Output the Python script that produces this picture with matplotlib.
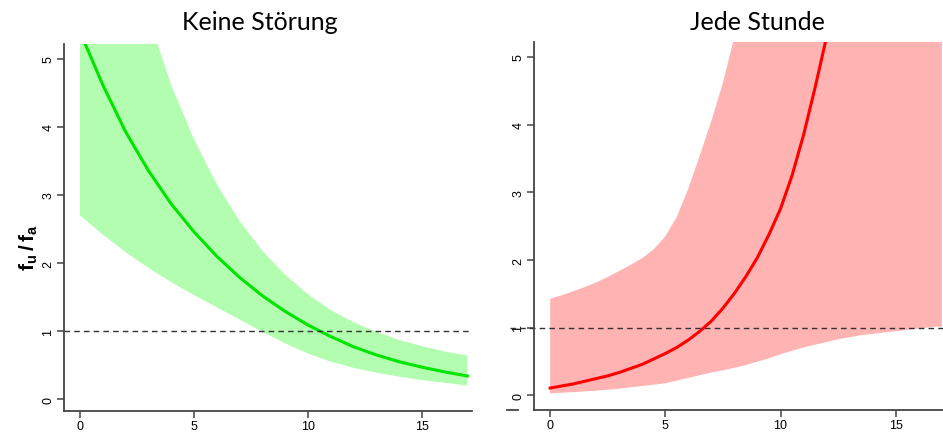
import matplotlib
matplotlib.use("Agg")
import matplotlib.pyplot as plt
from matplotlib.lines import Line2D

plt.rcParams["font.family"] = ["Liberation Sans", "DejaVu Sans"]
plt.rcParams["mathtext.fontset"] = "custom"
plt.rcParams["mathtext.bf"] = "Liberation Sans:bold"
plt.rcParams["mathtext.rm"] = "Liberation Sans"

# Werte
x = list(range(18))
x_half = [i / 2 for i in range(35)]
x_ticks = [0, 5, 10, 15]
y_ticks = [0, 1, 2, 3, 4, 5]

# Keine Störung
ks_fit = [5.40, 4.62, 3.93, 3.36, 2.87, 2.46, 2.10, 1.79, 1.52, 1.29,
          1.09, 0.92, 0.77, 0.65, 0.55, 0.47, 0.40, 0.34]
ks_upper = [8.4, 7.4, 6.5, 5.62, 4.62, 3.82, 3.16, 2.62, 2.18, 1.83,
            1.54, 1.31, 1.13, 0.99, 0.87, 0.78, 0.70, 0.64]
ks_lower = [2.70, 2.42, 2.16, 1.93, 1.72, 1.53, 1.35, 1.17, 0.99, 0.82,
            0.67, 0.55, 0.46, 0.39, 0.33, 0.28, 0.24, 0.20]

# Jede Stunde (halbe Schritte)
js_x = x_half[:26]
js_fit = [0.11, 0.14, 0.17, 0.21, 0.25, 0.29, 0.34, 0.40, 0.46, 0.54,
          0.62, 0.71, 0.82, 0.95, 1.10, 1.29, 1.51, 1.76, 2.04, 2.38,
          2.76, 3.25, 3.85, 4.55, 5.30, 6.20]
js_upper = [1.43, 1.48, 1.54, 1.60, 1.67, 1.75, 1.84, 1.93, 2.03, 2.16,
            2.35, 2.64, 3.06, 3.55, 4.06, 4.62, 5.30, 6.1, 7.0, 8.0,
            9.0, 10.0, 11.0, 12.0, 13.0, 14.0, 15.0, 16.0, 17.0, 18.0,
            19.0, 20.0, 21.0, 22.0, 23.0]
js_lower = [0.03, 0.04, 0.05, 0.06, 0.07, 0.085, 0.10, 0.12, 0.14, 0.16,
            0.18, 0.22, 0.26, 0.30, 0.34, 0.37, 0.41, 0.45, 0.50, 0.55,
            0.61, 0.66, 0.71, 0.75, 0.79, 0.83, 0.86, 0.89, 0.91, 0.93,
            0.95, 0.97, 0.99, 1.01, 1.02]

titles = ["Keine Störung", "Jede Stunde"]

fig = plt.figure(figsize=(9.43, 4.35), dpi=100)
ax1 = fig.add_axes([0.0679, 0.0536, 0.4326, 0.8430])
ax2 = fig.add_axes([0.5663, 0.0559, 0.4337, 0.8450])


def style(ax, xmax, ymin):
    ax.set_xlim(-0.7, xmax)
    ax.set_ylim(ymin, 5.22)
    for s in ["top", "right"]:
        ax.spines[s].set_visible(False)
    for s in ["left", "bottom"]:
        ax.spines[s].set_color("#444444")
        ax.spines[s].set_linewidth(1.3)
    ax.set_xticks(x_ticks)
    ax.set_yticks(y_ticks)
    ax.tick_params(axis="both", length=5, width=1.1, color="#444444",
                   labelsize=9, pad=2)
    for lab in ax.get_yticklabels():
        lab.set_rotation(90)
        lab.set_va("center")


ax1.fill_between(x, ks_lower, ks_upper, color="#b3fdb0", lw=0)
ax1.plot(x, ks_fit, color="#00e400", lw=2.2)
ax1.axhline(1, color="#333333", lw=1, ls=(0, (4, 3)))
style(ax1, 17.2, -0.17)

ax2.fill_between(x_half, js_lower, js_upper, color="#ffb3b3", lw=0)
ax2.plot(js_x, js_fit, color="#ff0000", lw=2.2)
ax2.plot([-1.75, 17.1], [1, 1], color="#333333", lw=1, ls=(0, (4, 3)),
         clip_on=False)
style(ax2, 17.05, -0.21)

# kleiner Strich links unten im rechten Bild
fig.add_artist(Line2D([507 / 943, 518 / 943], [1 - 410.7 / 435] * 2,
                      color="#444444", lw=1.3))

fig.text(260 / 943, 1 - 22 / 435, titles[0], fontsize=18, family="Lato",
         ha="center", va="center")
fig.text(757 / 943, 1 - 22 / 435, titles[1], fontsize=18, family="Lato",
         ha="center", va="center")
fig.text(29 / 943, 1 - 248 / 435, r"$\mathbf{f_u\,/\,f_a}$", fontsize=15,
         rotation=90, ha="center", va="center")

fig.savefig("out.png", dpi=100)
